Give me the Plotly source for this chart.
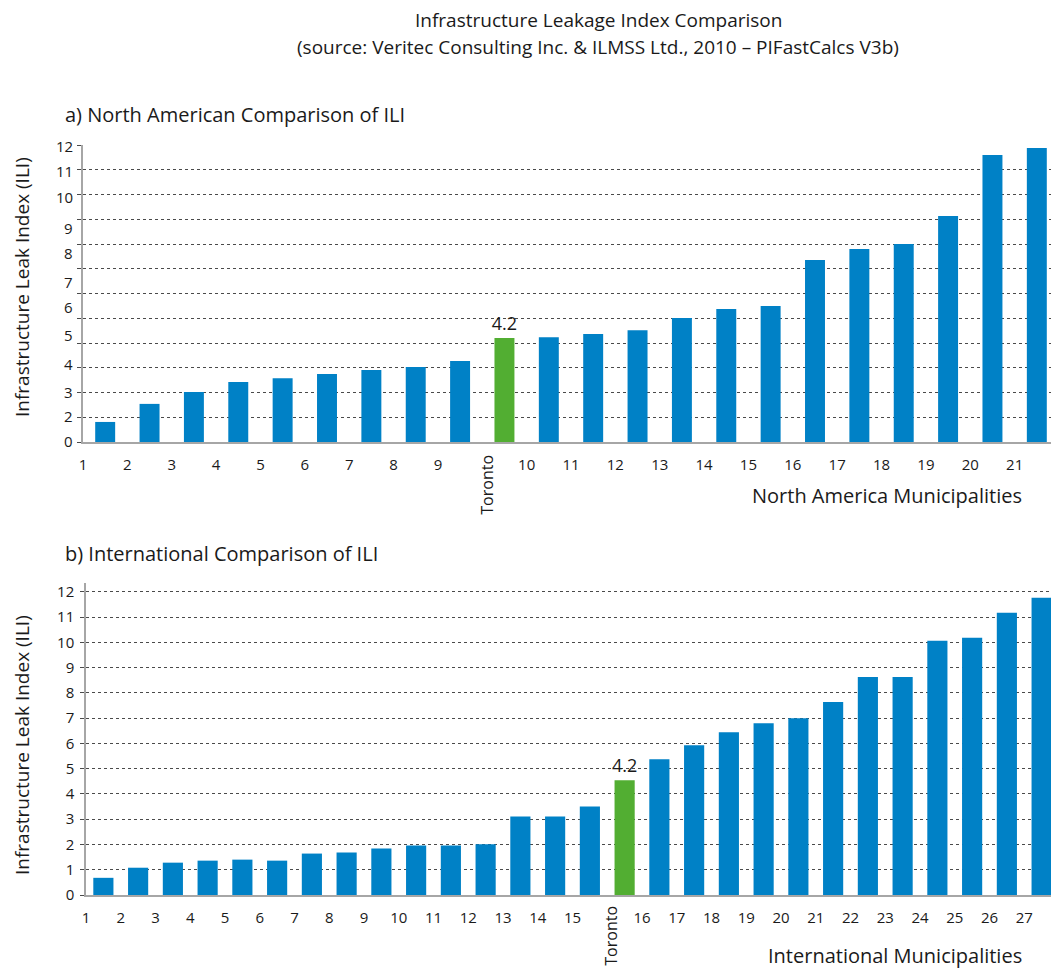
import plotly.graph_objects as go

# ---------------- data ----------------
na_categories = ["1", "2", "3", "4", "5", "6", "7", "8", "9", "Toronto",
                 "10", "11", "12", "13", "14", "15", "16", "17", "18", "19", "20", "21"]
na_ili = [0.81, 1.54, 2.02, 2.42, 2.58, 2.75, 2.91, 3.03, 3.27, 4.2,
          4.23, 4.36, 4.52, 5.01, 5.37, 5.49, 7.35, 7.80, 8.00, 9.13, 11.6, 11.88]

int_categories = ["1", "2", "3", "4", "5", "6", "7", "8", "9", "10", "11", "12", "13", "14", "15",
                  "Toronto", "16", "17", "18", "19", "20", "21", "22", "23", "24", "25", "26", "27"]
int_ili = [0.68, 1.08, 1.28, 1.36, 1.40, 1.36, 1.64, 1.68, 1.84, 1.96, 1.96, 2.01, 3.11, 3.11, 3.50,
           4.54, 5.37, 5.93, 6.44, 6.80, 7.00, 7.64, 8.63, 8.63, 10.06, 10.18, 11.17, 11.77]

toronto_label = "4.2"

# y tick labels of chart a) as printed in the source (irregularly placed)
na_ytick_text = ["12", "11", "10", "9", "8", "7", "6", "5", "4", "3", "2", "0"]
na_ytick_pos = [11.96, 10.95, 9.9, 8.65, 7.64, 6.46, 5.45, 4.32, 3.15, 2.02, 1.05, 0.04]

int_ytick_vals = list(range(0, 13))

title_line1 = "Infrastructure Leakage Index Comparison"
title_line2 = "(source: Veritec Consulting Inc. & ILMSS Ltd., 2010 – PIFastCalcs V3b)"
subtitle_a = "a) North American Comparison of ILI"
subtitle_b = "b) International Comparison of ILI"
ytitle = "Infrastructure Leak Index (ILI)"
xtitle_a = "North America Municipalities"
xtitle_b = "International Municipalities"

# ---------------- style ----------------
BLUE = "#0081C6"
GREEN = "#52AE32"
FONT = "Open Sans"
TXT = "#1a1a1a"
GRID = "#4a4a4a"

OFF = 8  # page body margin
W, H = 1059 - OFF, 971 - OFF
ML, MR, MT, MB = 83 - OFF, 0, 145 - OFF, 76
PW = W - ML - MR
PH = H - MT - MB


def px_x(px):
    return (px - OFF - ML) / PW


def px_y(py):
    return (H - MB - (py - OFF)) / PH


def colors(cats):
    return [GREEN if c == "Toronto" else BLUE for c in cats]


def texts(cats):
    return [toronto_label if c == "Toronto" else "" for c in cats]


na_x = list(range(len(na_categories)))
int_x = list(range(len(int_categories)))

fig = go.Figure()
fig.add_trace(go.Bar(
    x=na_x, y=na_ili, width=0.45,
    marker=dict(color=colors(na_categories), line=dict(width=0)),
    text=texts(na_categories), textposition="outside", cliponaxis=False,
    constraintext="none",
    textfont=dict(family=FONT, size=18, color=TXT),
    xaxis="x", yaxis="y", showlegend=False, hoverinfo="skip",
))
fig.add_trace(go.Bar(
    x=int_x, y=int_ili, width=0.58,
    marker=dict(color=colors(int_categories), line=dict(width=0)),
    text=texts(int_categories), textposition="outside", cliponaxis=False,
    constraintext="none",
    textfont=dict(family=FONT, size=18, color=TXT),
    xaxis="x2", yaxis="y2", showlegend=False, hoverinfo="skip",
))

xaxis_common = dict(
    showgrid=False, zeroline=False, showline=True, linecolor="#a6a6a6", linewidth=2,
    ticks="", tickfont=dict(family=FONT, size=15, color=TXT), ticklabelstandoff=8,
)
yaxis_common = dict(
    showgrid=True, gridcolor=GRID, griddash="dot", gridwidth=1, dtick=1, tick0=0,
    zeroline=False, showline=True, linecolor="#a6a6a6", linewidth=1.5,
    ticks="outside", ticklen=4, tickcolor=GRID, tickwidth=1,
    tickfont=dict(family=FONT, size=15, color=TXT),
)

fig.update_layout(
    width=W, height=H,
    margin=dict(l=ML, r=MR, t=MT, b=MB),
    paper_bgcolor="white", plot_bgcolor="white",
    font=dict(family=FONT, color=TXT),
    xaxis=dict(
        **xaxis_common, domain=[0, 1], anchor="y", range=[-0.5, len(na_categories) - 0.5],
        tickmode="array", tickvals=[i - 0.5 for i in na_x],
        ticktext=["" if c == "Toronto" else c for c in na_categories],
    ),
    yaxis=dict(**yaxis_common, domain=[px_y(442), 1], anchor="x", range=[0, 12],
               showticklabels=False),
    xaxis2=dict(
        **xaxis_common, domain=[px_x(86), 1], anchor="y2", range=[-0.5, len(int_categories) - 0.5],
        tickmode="array", tickvals=[i - 0.5 for i in int_x],
        ticktext=["" if c == "Toronto" else c for c in int_categories],
    ),
    yaxis2=dict(**yaxis_common, domain=[0, px_y(583)], anchor="x2", range=[0, 12.35],
                tickmode="array", tickvals=int_ytick_vals, ticklabelstandoff=3),
)


def txt(text, x, y, xanchor="center", size=19, angle=0, xref="paper", yref="paper"):
    return dict(text=text, xref=xref, yref=yref, x=x, y=y, xanchor=xanchor,
                yanchor="middle", textangle=angle, showarrow=False, borderpad=0,
                font=dict(family=FONT, size=size, color=TXT))


ann = [
    txt(title_line1, px_x(598), px_y(20), size=19),
    txt(title_line2, px_x(598), px_y(47), size=19),
    txt(subtitle_a, px_x(64), px_y(115), xanchor="left", size=20),
    txt(subtitle_b, px_x(64), px_y(553), xanchor="left", size=20),
    txt(ytitle, px_x(22), px_y(287), size=19, angle=-90),
    txt(ytitle, px_x(22), px_y(745), size=19, angle=-90),
    txt(xtitle_a, px_x(1023), px_y(495), xanchor="right", size=20),
    txt(xtitle_b, px_x(1023), px_y(955), xanchor="right", size=20),
]

# rotated "Toronto" category labels
t_na = na_categories.index("Toronto")
t_int = int_categories.index("Toronto")
ann.append(txt("Toronto", t_na - 0.4, px_y(485), size=16, angle=-90, xref="x"))
ann.append(txt("Toronto", t_int - 0.4, px_y(936), size=16, angle=-90, xref="x2"))

# y tick labels of chart a)
for t, p in zip(na_ytick_text, na_ytick_pos):
    ann.append(txt(t, px_x(74), p, xanchor="right", size=15, yref="y"))

fig.update_layout(annotations=ann)

fig.write_html("out.html")
